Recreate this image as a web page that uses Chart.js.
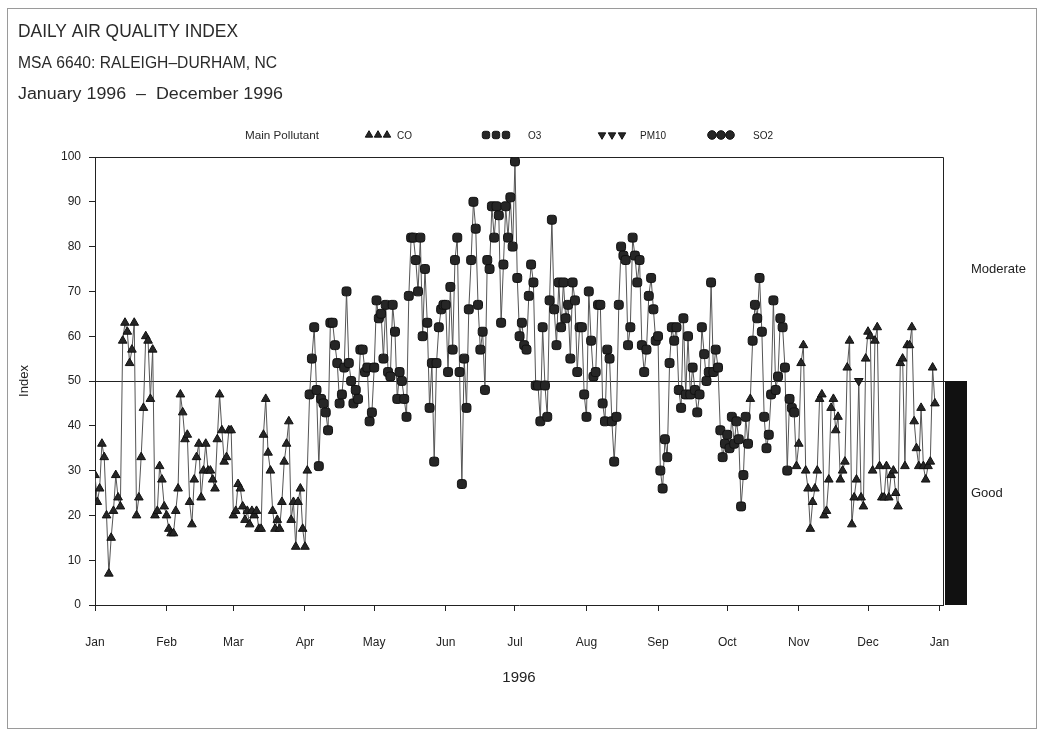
<!DOCTYPE html>
<html><head><meta charset="utf-8">
<script src="https://cdn.jsdelivr.net/npm/chart.js@4/dist/chart.umd.min.js"></script>
<style>html,body{margin:0;padding:0;background:#fff;}canvas{display:block}</style>
</head><body>
<canvas id="c" width="1038" height="733"></canvas>
<script>
// ---------- DATA ----------
const titleLines = ['DAILY AIR QUALITY INDEX', 'MSA 6640: RALEIGH\u2013DURHAM, NC', 'January 1996  \u2013  December 1996'];
const monthLabels = ['Jan','Feb','Mar','Apr','May','Jun','Jul','Aug','Sep','Oct','Nov','Dec','Jan'];
const monthStartDays = [0,31,60,91,121,152,182,213,244,274,305,335,366];
const yTicks = [0,10,20,30,40,50,60,70,80,90,100];

const aqiJan = [29,23,26,36,33,20,7,15,21,29,24,22,59,63,61,54,57,63,20,24,33,44,60,59,46,57,20,21,31,28,22];
const aqiFeb = [20,17,16,16,21,26,47,43,37,38,23,18,28,33,36,24,30,36,30,30,28,26,37,47,39,32,33,39,39];
const aqiMar = [20,21,27,26,22,19,21,18,21,20,21,17,17,38,46,34,30,21,17,19,17,23,32,36,41,19,23,13,23,26,17];
const aqiApr = [13,30,47,55,62,48,31,46,45,43,39,63,63,58,54,45,47,53,70,54,50,45,48,46,57,57,52,53,41,43];
const aqiMay = [53,68,64,65,55,67,52,51,67,61,46,52,50,46,42,69,82,82,77,70,82,60,75,63,44,54,32,54,62,66,67];
const aqiJun = [67,52,71,57,77,82,52,27,55,44,66,77,90,84,67,57,61,48,77,75,89,82,89,87,63,76,89,82,91,80];
const aqiJul = [99,73,60,63,58,57,69,76,72,49,49,41,62,49,42,68,86,66,58,72,62,72,64,67,55,72,68,52,62,62,47];
const aqiAug = [42,70,59,51,52,67,67,45,41,57,55,41,32,42,67,80,78,77,58,62,82,78,72,77,58,52,57,69,73,66,59];
const aqiSep = [60,30,26,37,33,54,62,59,62,48,44,64,47,60,47,53,48,43,47,62,56,50,52,72,52,57,53,39,33,36];
const aqiOct = [38,35,42,36,41,37,22,29,42,36,46,59,67,64,73,61,42,35,38,47,68,48,51,64,62,53,30,46,44,43,31];
const aqiNov = [36,54,58,30,26,17,23,26,30,46,47,20,21,28,44,46,39,42,28,30,32,53,59,18,24,28,50,24,22,55];
const aqiDec = [61,60,30,59,62,31,24,24,31,24,29,30,25,22,54,55,31,58,58,62,41,35,31,44,31,28,31,32,53,45,null];

// main pollutant of each day, as runs of consecutive days
const pollutantNames = ['CO','O3','PM10','SO2'];
const pollutantRuns = [['CO',93],['O3',191],['CO',1],['O3',19],['CO',27],['PM10',1],['CO',34]];

// AQI bands drawn at the right of the plot
const bandNames = ['Good','Moderate'];
const bandLow = [0,50];
const bandHigh = [50,100];
const bandColors = ['#111111','#ffffff'];
const thresholdValue = 50;

// ---------- BUILD ----------
const aqi = [].concat(aqiJan,aqiFeb,aqiMar,aqiApr,aqiMay,aqiJun,aqiJul,aqiAug,aqiSep,aqiOct,aqiNov,aqiDec);
const pollutantOfDay = pollutantRuns.flatMap(([p,n]) => Array(n).fill(p));
const points = aqi.map((v,i) => ({x:i, y:v}));

const markerStyles = {
  CO:   {pointStyle:'triangle',    rotation:0,   radius:5},
  O3:   {pointStyle:'rectRounded', rotation:0,   radius:5.2},
  PM10: {pointStyle:'triangle',    rotation:180, radius:5},
  SO2:  {pointStyle:'circle',      rotation:0,   radius:4}
};
const FONT = '"Liberation Sans", Arial, sans-serif';
const INK = '#222';
const MARK_FILL = '#262626';
Chart.defaults.font.family = FONT;
Chart.defaults.color = INK;

function drawFitText(ctx, text, x, y, size, width){
  ctx.save();
  ctx.font = size + 'px ' + FONT;
  const w = ctx.measureText(text).width;
  ctx.translate(x, y);
  ctx.scale(width / w, 1);
  ctx.fillText(text, 0, 0);
  ctx.restore();
}

const decorPlugin = {
  id: 'decor',
  beforeDraw(chart){
    const ctx = chart.ctx;
    ctx.save();
    ctx.fillStyle = '#fff';
    ctx.fillRect(0,0,chart.width,chart.height);
    ctx.strokeStyle = '#9a9a9a';
    ctx.lineWidth = 1;
    ctx.strokeRect(7.5, 8.5, 1029, 720);
    ctx.restore();
  },
  beforeDatasetsDraw(chart){
    const {ctx, chartArea:a, scales:{y}} = chart;
    ctx.save();
    ctx.strokeStyle = INK;
    ctx.lineWidth = 1;
    ctx.beginPath();
    ctx.moveTo(a.left, Math.round(a.top)+0.5);
    ctx.lineTo(a.right+0.5, Math.round(a.top)+0.5);
    ctx.lineTo(a.right+0.5, a.bottom);
    ctx.stroke();
    const ty = Math.round(y.getPixelForValue(thresholdValue)) + 0.5;
    ctx.beginPath();
    ctx.moveTo(a.left, ty);
    ctx.lineTo(a.right + 2, ty);
    ctx.stroke();
    ctx.restore();
  },
  afterDraw(chart){
    const {ctx, chartArea:a, scales:{y}} = chart;
    ctx.save();
    ctx.fillStyle = '#2a2a2a';
    ctx.textBaseline = 'alphabetic';
    ctx.textAlign = 'left';
    drawFitText(ctx, titleLines[0], 18, 37, 19, 220);
    drawFitText(ctx, titleLines[1], 18, 68, 16, 259);
    drawFitText(ctx, titleLines[2], 18, 99, 16, 265);
    const ly = 135;
    drawFitText(ctx, 'Main Pollutant', 245, ly+4, 11, 74);
    const legendMarkX = {CO:[369,378,387], O3:[486,496,506], PM10:[602,612,622], SO2:[712,721,730]};
    const legendTextX = {CO:397, O3:528, PM10:640, SO2:753};
    pollutantNames.forEach(p => {
      const st = markerStyles[p];
      ctx.fillStyle = MARK_FILL;
      ctx.strokeStyle = '#111';
      ctx.lineWidth = 1;
      legendMarkX[p].forEach(x => {
        Chart.helpers.drawPoint(ctx, {pointStyle: st.pointStyle, rotation: st.rotation, radius: 4.3, borderWidth: 1}, x, ly);
      });
      ctx.fillStyle = INK;
      ctx.font = '10px ' + FONT;
      ctx.fillText(p, legendTextX[p], ly+4);
    });
    const bx = a.right + 2, bw = 22;
    bandNames.forEach((name, i) => {
      const yTop = y.getPixelForValue(bandHigh[i]);
      const yBot = y.getPixelForValue(bandLow[i]);
      ctx.fillStyle = bandColors[i];
      ctx.fillRect(bx, yTop, bw, yBot - yTop);
      ctx.fillStyle = INK;
      ctx.font = '13px ' + FONT;
      ctx.textBaseline = 'middle';
      ctx.fillText(name, a.right + 28, y.getPixelForValue((bandLow[i] + bandHigh[i]) / 2));
    });
    ctx.restore();
  }
};

new Chart(document.getElementById('c'), {
  type: 'line',
  data: {
    datasets: [{
      data: points,
      borderColor: '#555',
      borderWidth: 1,
      fill: false,
      tension: 0,
      spanGaps: false,
      pointStyle: c => markerStyles[pollutantOfDay[c.dataIndex]].pointStyle,
      pointRotation: c => markerStyles[pollutantOfDay[c.dataIndex]].rotation,
      pointRadius: c => markerStyles[pollutantOfDay[c.dataIndex]].radius,
      pointBackgroundColor: MARK_FILL,
      pointBorderColor: '#111',
      pointBorderWidth: 1
    }]
  },
  options: {
    responsive: false,
    animation: false,
    devicePixelRatio: 1,
    layout: {padding: {left: 0, right: 95, top: 157, bottom: 0}},
    plugins: {legend: {display: false}, tooltip: {enabled: false}, title: {display: false}},
    scales: {
      x: {
        type: 'linear', min: 0, max: 367.5,
        afterBuildTicks: s => { s.ticks = monthStartDays.map(v => ({value: v})); },
        ticks: {callback: (v, i) => monthLabels[i], autoSkip: false, maxRotation: 0, padding: 24, font: {size: 12}, color: INK},
        grid: {drawOnChartArea: false, drawTicks: true, tickLength: 6, color: INK},
        border: {color: INK},
        title: {display: true, text: '1996', font: {size: 15}, color: INK, padding: {top: 0, bottom: 46}},
        afterFit: s => { s.height = 128; }
      },
      y: {
        min: 0, max: 100,
        afterBuildTicks: s => { s.ticks = yTicks.map(v => ({value: v})); },
        ticks: {padding: 8, font: {size: 12}, color: INK},
        grid: {drawOnChartArea: false, drawTicks: true, tickLength: 6, color: INK},
        border: {color: INK},
        title: {display: true, text: 'Index', font: {size: 13}, color: INK, padding: {top: 17, bottom: 0}},
        afterFit: s => { s.width = 95; }
      }
    }
  },
  plugins: [decorPlugin]
});
</script>
</body></html>
